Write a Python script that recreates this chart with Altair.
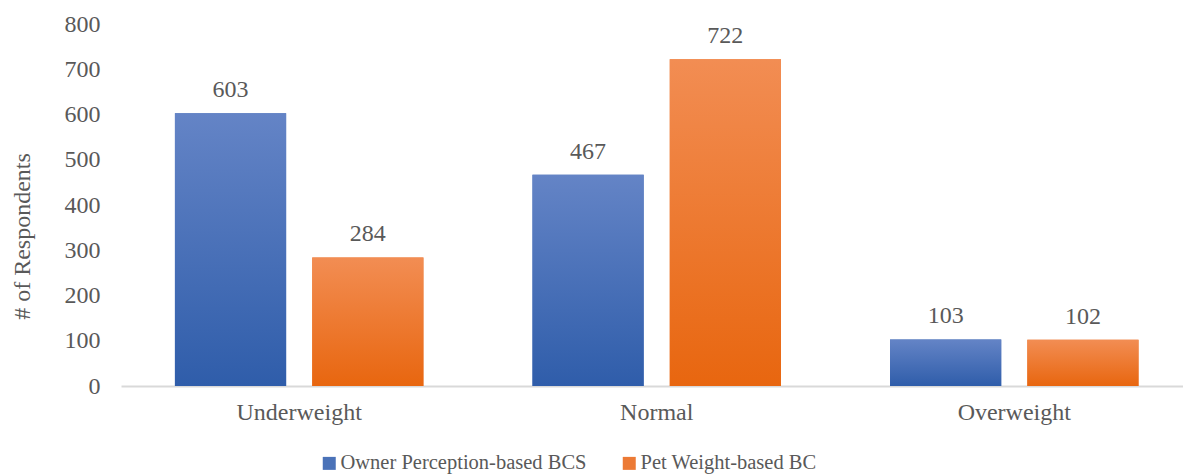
import altair as alt
import pandas as pd

categories = ["Underweight", "Normal", "Overweight"]
series = ["Owner Perception-based BCS", "Pet Weight-based BC"]
owner_values = [603, 467, 103]
pet_values = [284, 722, 102]

rows = []
for c, o, p in zip(categories, owner_values, pet_values):
    rows.append({"cat": c, "series": series[0], "value": o})
    rows.append({"cat": c, "series": series[1], "value": p})
df = pd.DataFrame(rows)

FONT = "Liberation Serif"
TXT = "#595959"
flat_colors = ["#4A72B8", "#EC7A35"]
grads = [
    alt.Gradient(gradient="linear", x1=0, y1=0, x2=0, y2=1,
                 stops=[alt.GradientStop(offset=0, color="#6484C6"),
                        alt.GradientStop(offset=1, color="#2F5DAA")]),
    alt.Gradient(gradient="linear", x1=0, y1=0, x2=0, y2=1,
                 stops=[alt.GradientStop(offset=0, color="#F28D53"),
                        alt.GradientStop(offset=1, color="#E8660F")]),
]

x_enc = alt.X("cat:N", sort=categories,
              scale=alt.Scale(paddingInner=0.305, paddingOuter=0.1376, align=0.548),
              axis=alt.Axis(title=None, labelAngle=0, labelFont=FONT, labelFontSize=24,
                            labelColor=TXT, labelPadding=14, ticks=False,
                            domainColor="#D9D9D9", domainWidth=2))
xo_enc = alt.XOffset("series:N", sort=series,
                     scale=alt.Scale(domain=series, paddingInner=0.19, paddingOuter=0))
y_enc = alt.Y("value:Q", scale=alt.Scale(domain=[0, 800]),
              axis=alt.Axis(title="# of Respondents", values=list(range(0, 801, 100)),
                            grid=False, domain=False, ticks=False,
                            labelFont=FONT, labelFontSize=24, labelColor=TXT, labelPadding=21,
                            titleFont=FONT, titleFontSize=24, titleColor=TXT,
                            titleFontWeight="normal", titleX=-99, titleY=212,
                            titleAngle=-90, titleAlign="center", titleBaseline="middle"))

base = alt.Chart(df)

legend_bars = base.mark_bar().encode(
    x=x_enc, xOffset=xo_enc, y=y_enc,
    color=alt.Color("series:N", sort=series,
                    scale=alt.Scale(domain=series, range=flat_colors),
                    legend=alt.Legend(title=None, orient="none", direction="horizontal",
                                      legendX=198, legendY=429, symbolType="square",
                                      symbolSize=169, symbolStrokeWidth=0,
                                      labelFont=FONT, labelFontSize=20.5, labelColor=TXT,
                                      labelLimit=600,
                                      labelOffset=1, columnPadding=32, padding=0)),
)

grad_layers = []
for s, g in zip(series, grads):
    grad_layers.append(
        base.transform_filter(alt.datum.series == s).mark_bar(color=g).encode(
            x=x_enc, xOffset=xo_enc, y=y_enc)
    )

labels = base.mark_text(font=FONT, fontSize=24, color=TXT, baseline="alphabetic", dy=-16).encode(
    x=x_enc, xOffset=xo_enc, y=y_enc, text=alt.Text("value:Q"))

chart = alt.layer(legend_bars, *grad_layers, labels).properties(
    width=1062, height=362,
    padding={"left": 121, "top": 24, "right": 0, "bottom": 90},
    autosize="none",
    background="white",
).configure(font=FONT).configure_view(stroke="transparent", strokeWidth=0)

chart.save("out.html", embed_options={"renderer": "svg", "actions": False})
